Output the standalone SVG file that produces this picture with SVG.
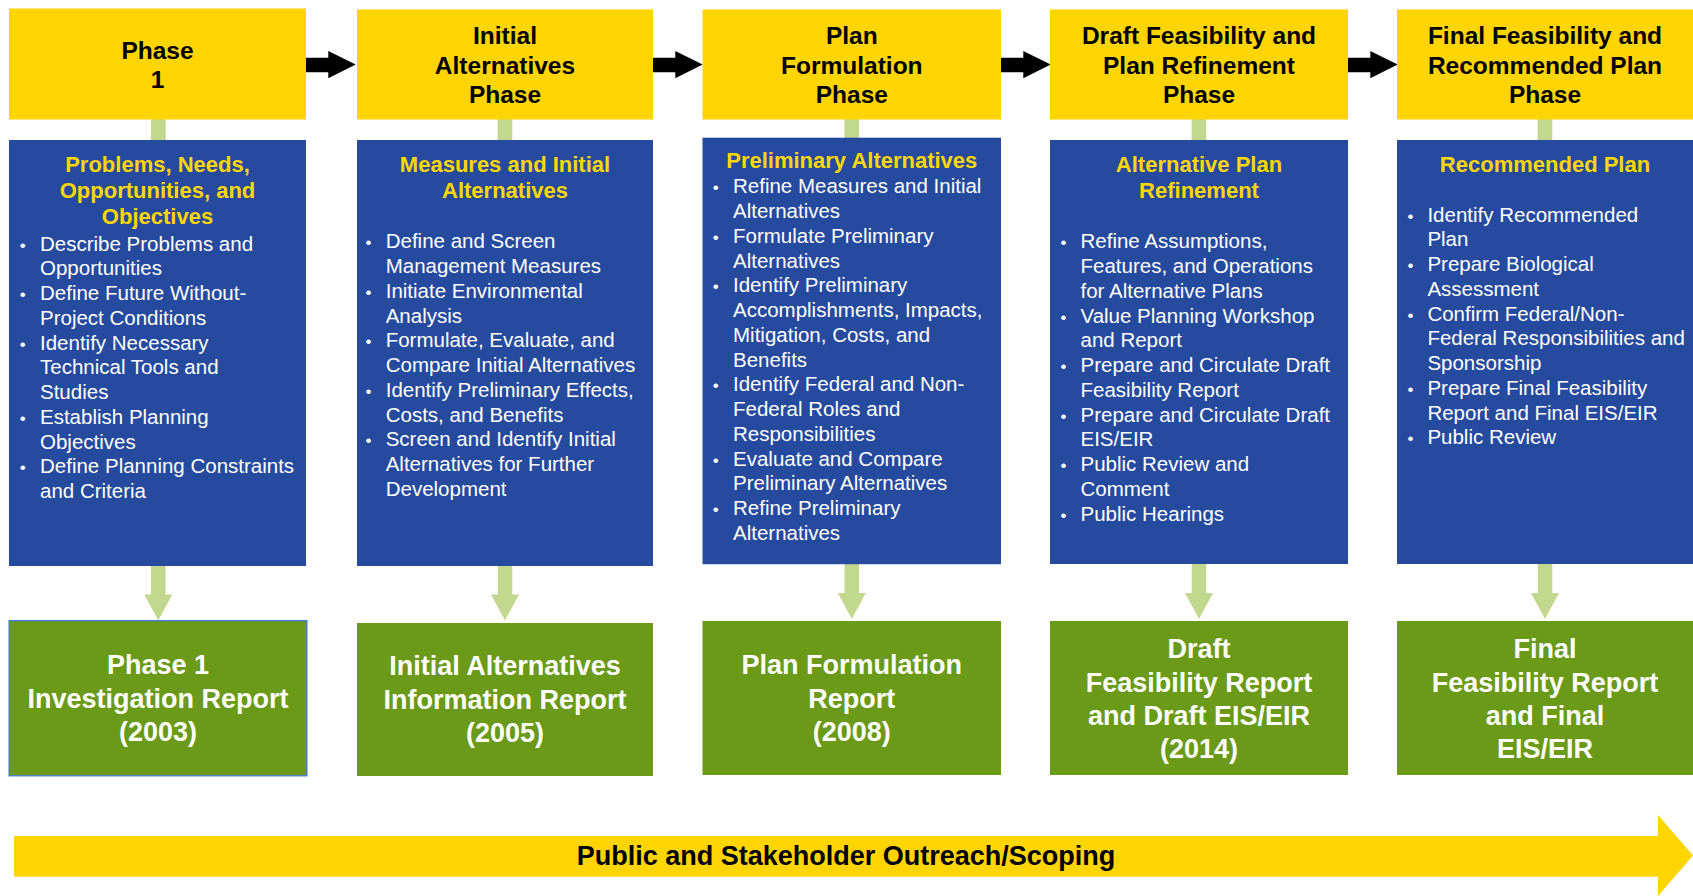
<svg xmlns="http://www.w3.org/2000/svg" width="1693" height="896" viewBox="0 0 1693 896">
<style>
.hdr{fill:#FFD500}
.blu{fill:#264A9E}
.grn{fill:#6A9A18}
.ht{font-family:"Liberation Sans",Arial,sans-serif;font-weight:bold;font-size:24.5px;fill:#000;text-anchor:middle}
.bt{font-family:"Liberation Sans",Arial,sans-serif;font-weight:bold;font-size:22px;fill:#FFD700;text-anchor:middle}
.li{font-family:"Liberation Sans",Arial,sans-serif;font-size:20.5px;fill:#fff}
.bu{font-family:"Liberation Sans",Arial,sans-serif;font-size:17px;fill:#fff}
.gt{font-family:"Liberation Sans",Arial,sans-serif;font-weight:bold;font-size:27px;fill:#fff;text-anchor:middle}
.bn{font-family:"Liberation Sans",Arial,sans-serif;font-weight:bold;font-size:27px;fill:#000;text-anchor:middle}
.stub{fill:#C3D88F}
</style>
<defs>
<path id="blk" d="M306,57.7 H328.3 V51 L355.7,64.6 L328.3,78.3 V72.3 H306 Z" fill="#000"/>
<path id="gdn" d="M-7.3,0 H7.3 V29 H14 L0,55 L-14,29 H-7.3 Z" fill="#C3D88F"/>
</defs>

<g id="connectors">
<use href="#blk"/>
<use href="#blk" transform="translate(347,0)"/>
<use href="#blk" transform="translate(695,0)"/>
<use href="#blk" transform="translate(1042,0)"/>
<rect class="stub" x="151" y="119" width="14.7" height="22"/>
<rect class="stub" x="497.6" y="119" width="14.7" height="22"/>
<rect class="stub" x="844.4" y="119" width="14.7" height="19"/>
<rect class="stub" x="1191.6" y="119" width="14.7" height="22"/>
<rect class="stub" x="1537.6" y="119" width="14.7" height="22"/>
<use href="#gdn" transform="translate(158.3,565.5)"/>
<use href="#gdn" transform="translate(505,565.5)"/>
<use href="#gdn" transform="translate(851.8,564)"/>
<use href="#gdn" transform="translate(1199,564)"/>
<use href="#gdn" transform="translate(1545,564)"/>
</g>

<g id="phase1">
<rect class="hdr" x="9" y="8.5" width="297" height="111"/>
<text class="ht"><tspan x="157.5" y="59.3">Phase</tspan><tspan x="157.5" y="88.3">1</tspan></text>
</g>
<g id="initial-alternatives-phase">
<rect class="hdr" x="357" y="9.5" width="296" height="110"/>
<text class="ht"><tspan x="505" y="44.3">Initial</tspan><tspan x="505" y="73.5">Alternatives</tspan><tspan x="505" y="102.7">Phase</tspan></text>
</g>
<g id="plan-formulation-phase">
<rect class="hdr" x="702.5" y="9.5" width="298.5" height="110"/>
<text class="ht"><tspan x="851.8" y="44.3">Plan</tspan><tspan x="851.8" y="73.5">Formulation</tspan><tspan x="851.8" y="102.7">Phase</tspan></text>
</g>
<g id="draft-feasibility-phase">
<rect class="hdr" x="1050" y="9.5" width="298" height="110"/>
<text class="ht"><tspan x="1199" y="44.3">Draft Feasibility  and</tspan><tspan x="1199" y="73.5">Plan Refinement</tspan><tspan x="1199" y="102.7">Phase</tspan></text>
</g>
<g id="final-feasibility-phase">
<rect class="hdr" x="1397" y="9.5" width="296" height="110"/>
<text class="ht"><tspan x="1545" y="44.3">Final Feasibility  and</tspan><tspan x="1545" y="73.5">Recommended Plan</tspan><tspan x="1545" y="102.7">Phase</tspan></text>
</g>

<g id="problems-needs">
<rect class="blu" x="9" y="140" width="297" height="426"/>
<text class="bt"><tspan x="157.5" y="171.7">Problems, Needs,</tspan><tspan x="157.5" y="198">Opportunities, and</tspan><tspan x="157.5" y="224.2">Objectives</tspan></text>
<text class="bu"><tspan x="19.8" y="250.7">•</tspan><tspan x="19.8" y="300.2">•</tspan><tspan x="19.8" y="349.7">•</tspan><tspan x="19.8" y="423.95">•</tspan><tspan x="19.8" y="473.45">•</tspan></text>
<text class="li">
<tspan x="40" y="250.7">Describe Problems and</tspan>
<tspan x="40" y="275.45">Opportunities</tspan>
<tspan x="40" y="300.2">Define Future Without-</tspan>
<tspan x="40" y="324.95">Project Conditions</tspan>
<tspan x="40" y="349.7">Identify Necessary</tspan>
<tspan x="40" y="374.45">Technical Tools and</tspan>
<tspan x="40" y="399.2">Studies</tspan>
<tspan x="40" y="423.95">Establish Planning</tspan>
<tspan x="40" y="448.7">Objectives</tspan>
<tspan x="40" y="473.45">Define Planning Constraints</tspan>
<tspan x="40" y="498.2">and Criteria</tspan>
</text>
</g>

<g id="measures-initial-alternatives">
<rect class="blu" x="357" y="140" width="296" height="426"/>
<text class="bt"><tspan x="505" y="171.7">Measures and Initial</tspan><tspan x="505" y="198">Alternatives</tspan></text>
<text class="bu"><tspan x="365.5" y="248.3">•</tspan><tspan x="365.5" y="297.8">•</tspan><tspan x="365.5" y="347.3">•</tspan><tspan x="365.5" y="396.8">•</tspan><tspan x="365.5" y="446.3">•</tspan></text>
<text class="li">
<tspan x="385.7" y="248.3">Define and Screen</tspan>
<tspan x="385.7" y="273.05">Management Measures</tspan>
<tspan x="385.7" y="297.8">Initiate Environmental</tspan>
<tspan x="385.7" y="322.55">Analysis</tspan>
<tspan x="385.7" y="347.3">Formulate, Evaluate, and</tspan>
<tspan x="385.7" y="372.05">Compare Initial Alternatives</tspan>
<tspan x="385.7" y="396.8">Identify Preliminary Effects,</tspan>
<tspan x="385.7" y="421.55">Costs, and Benefits</tspan>
<tspan x="385.7" y="446.3">Screen and Identify Initial</tspan>
<tspan x="385.7" y="471.05">Alternatives for Further</tspan>
<tspan x="385.7" y="495.8">Development</tspan>
</text>
</g>

<g id="preliminary-alternatives">
<rect class="blu" x="702.5" y="137.7" width="298.5" height="426.5"/>
<text class="bt"><tspan x="851.8" y="168.3">Preliminary Alternatives</tspan></text>
<text class="bu"><tspan x="712.8" y="193.3">•</tspan><tspan x="712.8" y="242.8">•</tspan><tspan x="712.8" y="292.3">•</tspan><tspan x="712.8" y="391.3">•</tspan><tspan x="712.8" y="465.55">•</tspan><tspan x="712.8" y="515.05">•</tspan></text>
<text class="li">
<tspan x="733" y="193.3">Refine Measures and Initial</tspan>
<tspan x="733" y="218.05">Alternatives</tspan>
<tspan x="733" y="242.8">Formulate Preliminary</tspan>
<tspan x="733" y="267.55">Alternatives</tspan>
<tspan x="733" y="292.3">Identify Preliminary</tspan>
<tspan x="733" y="317.05">Accomplishments, Impacts,</tspan>
<tspan x="733" y="341.8">Mitigation, Costs, and</tspan>
<tspan x="733" y="366.55">Benefits</tspan>
<tspan x="733" y="391.3">Identify Federal and Non-</tspan>
<tspan x="733" y="416.05">Federal Roles and</tspan>
<tspan x="733" y="440.8">Responsibilities</tspan>
<tspan x="733" y="465.55">Evaluate and Compare</tspan>
<tspan x="733" y="490.3">Preliminary Alternatives</tspan>
<tspan x="733" y="515.05">Refine Preliminary</tspan>
<tspan x="733" y="539.8">Alternatives</tspan>
</text>
</g>

<g id="alternative-plan-refinement">
<rect class="blu" x="1050" y="140" width="298" height="424"/>
<text class="bt"><tspan x="1199" y="171.7">Alternative Plan</tspan><tspan x="1199" y="198">Refinement</tspan></text>
<text class="bu"><tspan x="1060.5" y="248.3">•</tspan><tspan x="1060.5" y="322.55">•</tspan><tspan x="1060.5" y="372.05">•</tspan><tspan x="1060.5" y="421.55">•</tspan><tspan x="1060.5" y="471.05">•</tspan><tspan x="1060.5" y="520.55">•</tspan></text>
<text class="li">
<tspan x="1080.5" y="248.3">Refine Assumptions,</tspan>
<tspan x="1080.5" y="273.05">Features, and Operations</tspan>
<tspan x="1080.5" y="297.8">for Alternative Plans</tspan>
<tspan x="1080.5" y="322.55">Value Planning Workshop</tspan>
<tspan x="1080.5" y="347.3">and Report</tspan>
<tspan x="1080.5" y="372.05">Prepare and Circulate Draft</tspan>
<tspan x="1080.5" y="396.8">Feasibility Report</tspan>
<tspan x="1080.5" y="421.55">Prepare and Circulate Draft</tspan>
<tspan x="1080.5" y="446.3">EIS/EIR</tspan>
<tspan x="1080.5" y="471.05">Public Review and</tspan>
<tspan x="1080.5" y="495.8">Comment</tspan>
<tspan x="1080.5" y="520.55">Public Hearings</tspan>
</text>
</g>

<g id="recommended-plan">
<rect class="blu" x="1397" y="140" width="296" height="424"/>
<text class="bt"><tspan x="1545" y="171.7">Recommended Plan</tspan></text>
<text class="bu"><tspan x="1407.4" y="221.7">•</tspan><tspan x="1407.4" y="271.2">•</tspan><tspan x="1407.4" y="320.7">•</tspan><tspan x="1407.4" y="394.95">•</tspan><tspan x="1407.4" y="444.45">•</tspan></text>
<text class="li">
<tspan x="1427.4" y="221.7">Identify Recommended</tspan>
<tspan x="1427.4" y="246.45">Plan</tspan>
<tspan x="1427.4" y="271.2">Prepare Biological</tspan>
<tspan x="1427.4" y="295.95">Assessment</tspan>
<tspan x="1427.4" y="320.7">Confirm Federal/Non-</tspan>
<tspan x="1427.4" y="345.45">Federal Responsibilities and</tspan>
<tspan x="1427.4" y="370.2">Sponsorship</tspan>
<tspan x="1427.4" y="394.95">Prepare Final Feasibility</tspan>
<tspan x="1427.4" y="419.7">Report and Final EIS/EIR</tspan>
<tspan x="1427.4" y="444.45">Public Review</tspan>
</text>
</g>

<g id="phase1-report">
<rect class="grn" x="9.2" y="620.7" width="297.6" height="155" stroke="#4F7FC8" stroke-width="1.5"/>
<text class="gt"><tspan x="158" y="674.3">Phase 1</tspan><tspan x="158" y="707.7">Investigation Report</tspan><tspan x="158" y="741">(2003)</tspan></text>
</g>
<g id="initial-alternatives-report">
<rect class="grn" x="357" y="623" width="296" height="153"/>
<text class="gt"><tspan x="505" y="675.3">Initial Alternatives</tspan><tspan x="505" y="708.7">Information Report</tspan><tspan x="505" y="742">(2005)</tspan></text>
</g>
<g id="plan-formulation-report">
<rect class="grn" x="702.5" y="621" width="298.5" height="154"/>
<text class="gt"><tspan x="851.8" y="674.3">Plan Formulation</tspan><tspan x="851.8" y="707.7">Report</tspan><tspan x="851.8" y="741">(2008)</tspan></text>
</g>
<g id="draft-feasibility-report">
<rect class="grn" x="1050" y="621" width="298" height="154"/>
<text class="gt"><tspan x="1199" y="658.3">Draft</tspan><tspan x="1199" y="691.7">Feasibility Report</tspan><tspan x="1199" y="725">and Draft EIS/EIR</tspan><tspan x="1199" y="758.3">(2014)</tspan></text>
</g>
<g id="final-feasibility-report">
<rect class="grn" x="1397" y="621" width="296" height="154"/>
<text class="gt"><tspan x="1545" y="658.3">Final</tspan><tspan x="1545" y="691.7">Feasibility Report</tspan><tspan x="1545" y="725">and Final</tspan><tspan x="1545" y="758.3">EIS/EIR</tspan></text>
</g>

<g id="outreach-banner">
<path d="M14,836 H1658 V815 L1693,855.5 L1658,896 V876.7 H14 Z" fill="#FFD500"/>
<text class="bn" x="846" y="865">Public and Stakeholder Outreach/Scoping</text>
</g>
</svg>
